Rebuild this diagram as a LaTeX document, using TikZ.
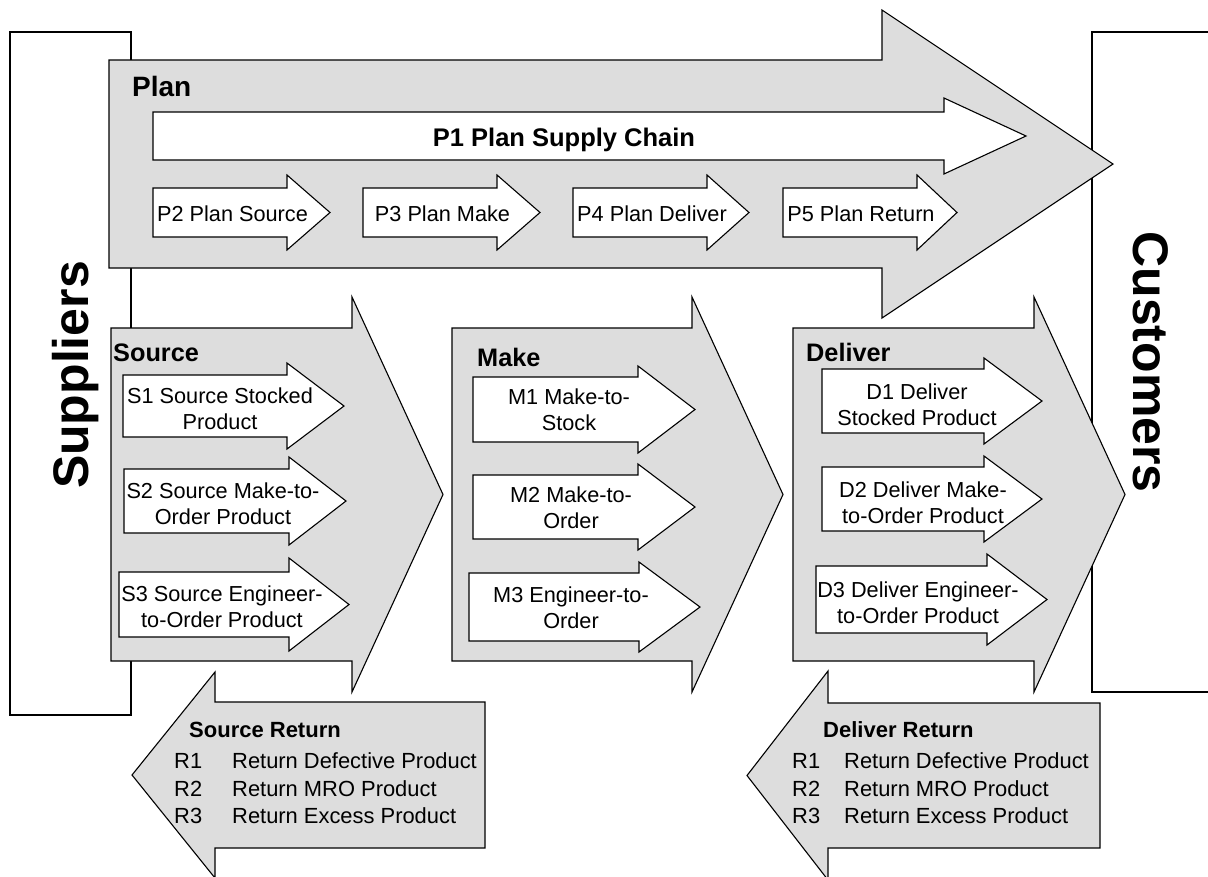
\documentclass[tikz,border=0pt]{standalone}
\usepackage{fontspec}
\setmainfont{Liberation Sans}
\definecolor{gfill}{RGB}{221,221,221}
% right-pointing block arrow: style, left, top, bottom, head base x, head overhang, tip x
\newcommand{\myRArrow}[7]{\draw[#1] (#2,#3) -- (#5,#3) -- (#5,{#3-#6}) -- (#7,{(#3+#4)/2}) -- (#5,{#4+#6}) -- (#5,#4) -- (#2,#4) -- cycle;}
% left-pointing block arrow: style, right, top, bottom, head base x, head overhang, tip x
\newcommand{\myLArrow}[7]{\draw[#1] (#2,#3) -- (#5,#3) -- (#5,{#3-#6}) -- (#7,{(#3+#4)/2}) -- (#5,{#4+#6}) -- (#5,#4) -- (#2,#4) -- cycle;}
\begin{document}
\begin{tikzpicture}[x=1pt,y=-1pt,line join=miter,
  big/.style={draw=black,fill=gfill,line width=1.1pt},
  small/.style={draw=black,fill=white,line width=1.1pt},
  party/.style={draw=black,line width=1.1pt},
  lbl/.style={font=\fontsize{21.7}{26}\selectfont,inner sep=0pt,align=center},
  head/.style={font=\fontsize{25.3}{30}\selectfont\bfseries,inner sep=0pt,anchor=base west},
  rhead/.style={font=\fontsize{22}{26}\selectfont\bfseries,inner sep=0pt,anchor=base west},
  ritem/.style={font=\fontsize{21.9}{26}\selectfont,inner sep=0pt,anchor=base west},
  side/.style={font=\fontsize{50}{56}\selectfont\bfseries,inner sep=0pt,anchor=base}]
\useasboundingbox (0,0) rectangle (1208,876);
\fill[white] (0,0) rectangle (1208,876);
\clip (0,0) rectangle (1208,876);

% suppliers and customers frames
\draw[party] (10,32) rectangle (131,715);
\draw[party] (1250,32) -- (1092,32) -- (1092,692) -- (1250,692);

% Plan
\myRArrow{big}{109}{60}{268}{882}{50}{1113}
\myRArrow{small}{153}{112}{160}{944}{14}{1026}
\myRArrow{small}{153}{188}{237}{287}{13}{330}
\myRArrow{small}{363}{188}{237}{497}{13}{540}
\myRArrow{small}{573}{188}{237}{707}{13}{749}
\myRArrow{small}{783}{188}{237}{917}{13}{957}

% Source
\myRArrow{big}{111}{328}{661}{352}{31}{443}
\myRArrow{small}{123}{375}{437}{287}{12}{344}
\myRArrow{small}{124}{469}{533}{289}{12}{346}
\myRArrow{small}{119}{572}{637}{289}{14}{349}

% Make
\myRArrow{big}{452}{328}{661}{692}{31}{783}
\myRArrow{small}{473}{377}{442}{638}{11}{695}
\myRArrow{small}{473}{475}{539}{638}{11}{695}
\myRArrow{small}{469}{573}{641}{639}{11}{700}

% Deliver
\myRArrow{big}{793}{328}{661}{1034}{31}{1125}
\myRArrow{small}{822}{369}{433}{984}{11}{1042}
\myRArrow{small}{822}{467}{531}{984}{11}{1042}
\myRArrow{small}{816}{566}{633}{987}{12}{1047}

% Returns
\myLArrow{big}{485}{702}{848}{215}{30}{132}
\myLArrow{big}{1100}{703}{848}{828}{32}{747}

% side labels
\node[side,rotate=90] (sup) at (88,375) {Suppliers};
\node[side,rotate=-90] (cus) at (1133,362) {Customers};

% Plan texts
\node[inner sep=0pt,anchor=base west,font=\fontsize{28}{32}\selectfont\bfseries] (plan) at (132,96) {Plan};
\node[inner sep=0pt,anchor=base,font=\fontsize{25.5}{30}\selectfont\bfseries] (p1) at (564,146) {P1 Plan Supply Chain};
\node[lbl,anchor=base] (p2) at (232.5,221) {P2 Plan Source};
\node[lbl,anchor=base] (p3) at (442.5,221) {P3 Plan Make};
\node[lbl,anchor=base] (p4) at (652,221) {P4 Plan Deliver};
\node[lbl,anchor=base] (p5) at (861,221) {P5 Plan Return};

% Source texts
\node[head] (src) at (113,361) {Source};
\node[lbl] (s1) at (220,408.5) {S1 Source Stocked\\Product};
\node[lbl] (s2) at (223,504) {S2 Source Make-to-\\Order Product};
\node[lbl] (s3) at (222,606.5) {S3 Source Engineer-\\to-Order Product};

% Make texts
\node[head] (mk) at (477,366) {Make};
\node[lbl] (m1) at (569,410) {M1 Make-to-\\Stock};
\node[lbl] (m2) at (571,508) {M2 Make-to-\\Order};
\node[lbl] (m3) at (571,608) {M3 Engineer-to-\\Order};

% Deliver texts
\node[head] (dl) at (806,361) {Deliver};
\node[lbl] (d1) at (917,404.5) {D1 Deliver\\Stocked Product};
\node[lbl] (d2) at (923,502.5) {D2 Deliver Make-\\to-Order Product};
\node[lbl] (d3) at (918,602.5) {D3 Deliver Engineer-\\to-Order Product};

% Source Return texts
\node[rhead] (srh) at (189,737) {Source Return};
\node[ritem] (sr1) at (174,768) {R1};
\node[ritem] (sr1t) at (232,768) {Return Defective Product};
\node[ritem] (sr2) at (174,796) {R2};
\node[ritem] (sr2t) at (232,796) {Return MRO Product};
\node[ritem] (sr3) at (174,823) {R3};
\node[ritem] (sr3t) at (232,823) {Return Excess Product};

% Deliver Return texts
\node[rhead] (drh) at (823,737) {Deliver Return};
\node[ritem] (dr1) at (792,768) {R1};
\node[ritem] (dr1t) at (844,768) {Return Defective Product};
\node[ritem] (dr2) at (792,796) {R2};
\node[ritem] (dr2t) at (844,796) {Return MRO Product};
\node[ritem] (dr3) at (792,823) {R3};
\node[ritem] (dr3t) at (844,823) {Return Excess Product};
\end{tikzpicture}
\end{document}
